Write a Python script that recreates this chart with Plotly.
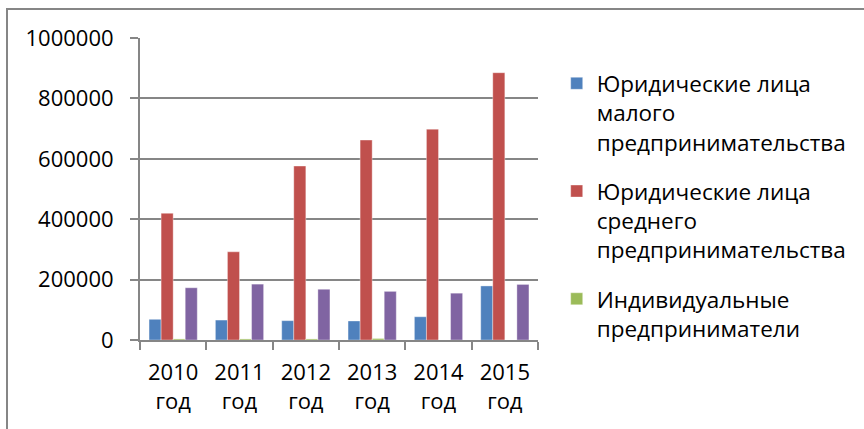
import plotly.graph_objects as go

categories = ["2010<br>год", "2011<br>год", "2012<br>год", "2013<br>год", "2014<br>год", "2015<br>год"]
small_legal = [68500, 66000, 64000, 63000, 77000, 179000]
medium_legal = [419500, 292000, 576000, 662000, 698000, 885000]
individual = [3500, 3500, 3500, 5000, 0, 0]
fourth_series = [173000, 185000, 168000, 161000, 155000, 184000]

names = [
    "Юридические лица<br>малого<br>предпринимательства",
    "Юридические лица<br>среднего<br>предпринимательства",
    "Индивидуальные<br>предприниматели",
    "Ряд 4",
]
colors = ["#4F81BD", "#C0504D", "#9BBB59", "#8064A2"]
series = [small_legal, medium_legal, individual, fourth_series]

FONT = "Open Sans"
fig = go.Figure()
for i, (nm, col, vals) in enumerate(zip(names, colors, series)):
    fig.add_trace(go.Bar(
        x=categories, y=vals, name=nm,
        marker=dict(color=col, line=dict(width=0.6, color="rgba(255,255,255,0.6)")),
        legendgroup=f"g{i}", showlegend=(i < 3),
    ))

fig.update_layout(
    template="none",
    width=864, height=429,
    margin=dict(l=140, r=326, t=38, b=89, autoexpand=False),
    paper_bgcolor="white", plot_bgcolor="white",
    barmode="group", bargap=0.273, bargroupgap=0,
    font=dict(family=FONT, size=22, color="black"),
    showlegend=True,
    legend=dict(
        x=1.047, y=0.92, xanchor="left", yanchor="top",
        font=dict(family=FONT, size=22.5, color="black"),
        valign="top", tracegroupgap=17, itemwidth=30,
        bgcolor="rgba(0,0,0,0)",
    ),
    xaxis=dict(
        automargin=False,
        showline=True, linecolor="#868686", linewidth=2,
        ticks="outside", tickson="boundaries", ticklen=8, tickcolor="#868686", tickwidth=2,
        showgrid=False, tickfont=dict(family=FONT, size=22),
        ticklabelstandoff=12,
    ),
    yaxis=dict(
        automargin=False,
        range=[0, 1000000], dtick=200000, tickformat="d",
        showline=True, linecolor="#868686", linewidth=2,
        ticks="outside", ticklen=8, tickcolor="#868686", tickwidth=2,
        showgrid=True, gridcolor="#868686", gridwidth=1.5,
        zeroline=False, tickfont=dict(family=FONT, size=22),
        ticklabelstandoff=12,
    ),
    shapes=[dict(
        type="rect", xref="paper", yref="paper",
        x0=(7 - 140) / 398, x1=2.0, y0=-1.0, y1=(340 - 9) / 302,
        line=dict(color="#868686", width=2), fillcolor="rgba(0,0,0,0)", layer="below",
    )],
)

fig.write_html(
    "out.html",
    config={"displayModeBar": False},
    post_script="document.body.style.margin='0';document.body.style.overflow='hidden';",
)
